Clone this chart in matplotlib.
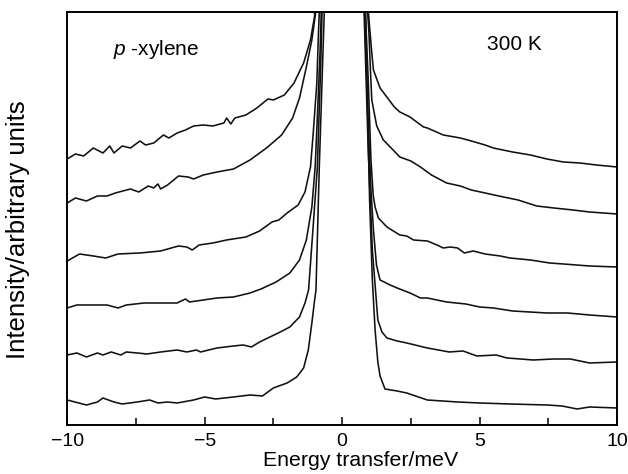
import matplotlib
matplotlib.use("Agg")
import matplotlib.pyplot as plt
from matplotlib.ticker import MultipleLocator

plt.rcParams['font.family'] = ['Liberation Sans', 'DejaVu Sans']
plt.rcParams['mathtext.fontset'] = 'custom'
plt.rcParams['mathtext.it'] = 'Liberation Sans:italic'
plt.rcParams['mathtext.rm'] = 'Liberation Sans'

# spectra, bottom (0) to top (5); intensity in arbitrary units
# the elastic peak at 0 meV runs far off scale, PEAK stands for that
PEAK = 5000

x_left = [
    [-10, -9.3, -8.9, -8.7, -8.3, -8.0, -7.45, -7.0, -6.7, -6.35, -6.0, -5.4, -5.0, -4.6,
     -3.95, -3.35, -2.9, -2.5, -2.0, -1.65, -1.4, -1.23, -1.1, -1.0, -0.95, -0.83, -0.65],
    [-10, -9.65, -9.3, -8.9, -8.7, -8.4, -8.05, -7.85, -7.45, -7.1, -6.6, -6.0, -5.65, -5.3,
     -5.15, -4.55, -3.95, -3.6, -3.3, -3.0, -2.25, -1.9, -1.55, -1.35, -1.22, -1.07, -0.9,
     -0.78, -0.73],
    [-10, -9.65, -9.05, -8.55, -8.15, -7.85, -7.2, -6.6, -6.0, -5.7, -5.55, -5.05, -4.55,
     -3.95, -3.35, -2.95, -2.4, -1.9, -1.55, -1.3, -1.1, -0.98, -0.9, -0.8, -0.76],
    [-10, -9.55, -9.05, -8.6, -8.15, -7.35, -6.6, -5.95, -5.65, -5.45, -5.2, -4.7, -4.2,
     -3.5, -3.0, -2.55, -2.3, -2.0, -1.6, -1.35, -1.15, -1.05, -0.92, -0.86, -0.83],
    [-10, -9.7, -9.3, -8.9, -8.55, -8.25, -7.7, -7.4, -7.05, -6.85, -6.7, -6.6, -6.35, -5.95,
     -5.6, -5.4, -5.05, -4.55, -3.95, -3.35, -2.75, -2.2, -1.8, -1.55, -1.3, -1.1, -0.97],
    [-10, -9.7, -9.4, -9.05, -8.7, -8.45, -8.3, -8.0, -7.7, -7.35, -7.15, -6.85, -6.5, -6.3,
     -6.0, -5.7, -5.4, -5.05, -4.7, -4.3, -4.2, -4.05, -3.9, -3.5, -3.1, -2.7, -2.5, -2.1,
     -1.75, -1.4, -1.15, -1.0],
]
y_left = [
    [25, 20, 23, 27, 23, 21, 23, 25, 22, 23, 22, 25, 28, 26, 28, 30, 29, 37, 42, 48, 57, 75,
     102, 125, 135, 258, 412],
    [70, 72, 68, 72, 70, 73, 70, 73, 72, 71, 73, 75, 73, 75, 73, 77, 79, 80, 78, 83, 93, 98,
     108, 122, 135, 192, 258, 358, 412],
    [117, 120, 120, 120, 117, 120, 122, 122, 122, 126, 123, 125, 127, 128, 132, 136, 143,
     152, 165, 185, 218, 258, 308, 375, 412],
    [164, 171, 169, 167, 171, 172, 174, 179, 178, 175, 180, 182, 185, 188, 194, 203, 205,
     212, 220, 233, 258, 292, 342, 392, 412],
    [222, 227, 224, 229, 229, 232, 236, 233, 239, 237, 241, 236, 240, 249, 248, 246, 250,
     253, 256, 265, 277, 290, 307, 327, 358, 385, 411],
    [266, 271, 269, 277, 272, 279, 272, 279, 277, 284, 280, 282, 290, 287, 292, 295, 299,
     300, 299, 302, 307, 301, 307, 310, 317, 326, 325, 330, 342, 362, 385, 409],
]

x_right = [
    [0.85, 1.0, 1.1, 1.2, 1.3, 1.38, 1.56, 2.0, 2.35, 3.1, 4.2, 5.0, 6.1, 7.45, 8.0, 8.55,
     9.0, 10],
    [0.8, 0.95, 1.1, 1.2, 1.3, 1.45, 1.63, 2.0, 2.35, 3.1, 3.9, 4.4, 4.9, 5.6, 6.0, 6.95,
     7.7, 8.3, 9.0, 10],
    [0.82, 0.95, 1.05, 1.14, 1.25, 1.38, 1.75, 2.0, 2.47, 2.85, 3.1, 3.8, 4.5, 5.0, 5.5,
     6.2, 7.45, 8.2, 9.0, 10],
    [0.85, 0.95, 1.05, 1.13, 1.2, 1.32, 1.63, 2.1, 2.35, 2.6, 3.1, 3.45, 3.68, 3.93, 4.2,
     4.45, 4.77, 5.2, 5.75, 6.1, 6.85, 7.55, 8.05, 9.0, 10],
    [0.93, 0.98, 1.03, 1.08, 1.26, 1.5, 1.75, 2.1, 2.5, 2.85, 3.25, 3.8, 4.3, 4.7, 5.2, 5.7,
     6.4, 7.08, 7.7, 8.4, 9.0, 10],
    [0.96, 1.0, 1.08, 1.14, 1.38, 1.9, 2.1, 2.47, 2.96, 3.1, 3.68, 4.3, 4.7, 5.2, 5.5, 6.2,
     6.85, 7.45, 8.05, 8.65, 9.25, 10],
]
y_right = [
    [412, 225, 145, 95, 63, 49, 36, 34, 32, 25, 23, 22, 21, 20, 19, 16, 18, 17],
    [412, 275, 175, 140, 105, 93, 87, 84, 82, 77, 73, 74, 69, 70, 67, 65, 66, 66, 62, 63],
    [412, 305, 235, 195, 160, 145, 140, 137, 132, 127, 127, 123, 121, 118, 117, 114, 112,
     112, 110, 108],
    [412, 345, 265, 230, 218, 207, 198, 190, 189, 185, 184, 180, 177, 178, 177, 172, 174,
     171, 169, 167, 165, 162, 161, 159, 158],
    [412, 390, 355, 325, 299, 285, 278, 268, 264, 258, 250, 242, 239, 235, 232, 229, 225,
     219, 217, 215, 213, 211],
    [412, 398, 372, 355, 337, 318, 313, 308, 298, 297, 290, 287, 284, 280, 277, 273, 270,
     266, 263, 262, 260, 258],
]

fig = plt.figure(figsize=(6.28, 4.74), dpi=100)
ax = fig.add_axes([0.107, 0.1034, 0.8755, 0.8713])

for xl, yl, xr, yr in zip(x_left, y_left, x_right, y_right):
    xs = xl + [0] + xr
    ys = yl + [PEAK] + yr
    ax.plot(xs, ys, color='#111111', lw=1.15, solid_joinstyle='round')

ax.set_xlim(-10, 10)
ax.set_ylim(0, 413)
ax.xaxis.set_major_locator(MultipleLocator(5))
ax.xaxis.set_minor_locator(MultipleLocator(2.5))
ax.tick_params(axis='x', which='both', direction='in', top=False, labelsize=14,
               pad=6)
ax.tick_params(axis='x', which='major', length=6, width=1.1)
ax.tick_params(axis='x', which='minor', length=5, width=1.1)
ax.set_yticks([])
for s in ax.spines.values():
    s.set_linewidth(1.4)

ax.set_xlabel('Energy transfer/meV', fontsize=15.3)
ax.xaxis.set_label_coords(0.533, -0.063)
ax.set_ylabel('Intensity/arbitrary units', fontsize=18.5)
ax.yaxis.set_label_coords(-0.068, 0.472)

ax.text(0.084, 0.908, '$p$ -xylene', transform=ax.transAxes, fontsize=15,
        ha='left', va='center')
ax.text(0.764, 0.922, '300 K', transform=ax.transAxes, fontsize=15,
        ha='left', va='center')

fig.savefig('out.png', dpi=100)
